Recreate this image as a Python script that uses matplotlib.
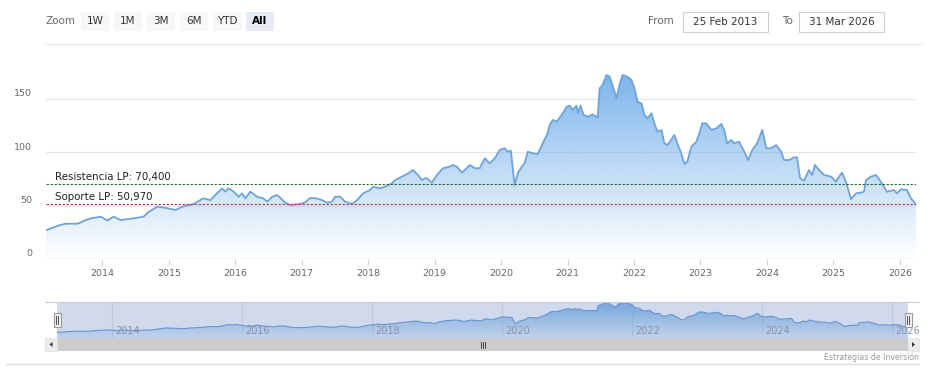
import matplotlib
matplotlib.use("Agg")
import matplotlib.pyplot as plt
import matplotlib.dates as mdates
from matplotlib.patches import Rectangle
import numpy as np
import pandas as pd

# ---------------- data ----------------
dates = [
    "2013-02-25", "2013-03-24", "2013-05-07", "2013-06-14", "2013-08-19", "2013-09-26",
    "2013-10-29", "2013-12-23", "2014-01-28", "2014-03-03", "2014-04-11", "2014-06-21",
    "2014-08-15", "2014-09-12", "2014-10-31", "2014-12-25", "2015-02-07", "2015-03-17",
    "2015-05-16", "2015-07-10", "2015-08-18", "2015-09-23", "2015-10-21", "2015-11-08",
    "2015-11-26", "2015-12-23", "2016-01-20", "2016-02-07", "2016-02-26", "2016-03-24",
    "2016-04-30", "2016-06-03", "2016-06-25", "2016-07-23", "2016-08-19", "2016-10-02",
    "2016-10-29", "2016-12-23", "2017-01-20", "2017-02-16", "2017-03-21", "2017-04-23",
    "2017-05-20", "2017-06-17", "2017-07-03", "2017-07-31", "2017-08-27", "2017-10-04",
    "2017-11-01", "2017-12-04", "2018-01-11", "2018-01-28", "2018-03-07", "2018-04-03",
    "2018-05-12", "2018-05-28", "2018-07-06", "2018-08-08", "2018-09-04", "2018-10-01",
    "2018-10-23", "2018-11-09", "2018-11-20", "2018-12-17", "2019-01-14", "2019-02-16",
    "2019-03-26", "2019-04-11", "2019-05-03", "2019-05-31", "2019-06-16", "2019-07-14",
    "2019-08-10", "2019-09-06", "2019-10-04", "2019-10-31", "2019-11-28", "2019-12-25",
    "2020-01-22", "2020-02-07", "2020-02-24", "2020-03-16", "2020-04-02", "2020-04-24",
    "2020-05-10", "2020-05-27", "2020-06-23", "2020-07-21", "2020-08-17", "2020-09-13",
    "2020-09-24", "2020-10-11", "2020-11-02", "2020-11-29", "2020-12-27", "2021-01-12",
    "2021-01-29", "2021-02-19", "2021-02-27", "2021-03-13", "2021-03-30", "2021-04-21",
    "2021-05-18", "2021-06-15", "2021-06-26", "2021-07-12", "2021-08-03", "2021-08-20",
    "2021-09-05", "2021-09-27", "2021-10-13", "2021-10-30", "2021-11-26", "2021-12-18",
    "2022-01-04", "2022-01-20", "2022-02-11", "2022-02-27", "2022-03-16", "2022-04-07",
    "2022-04-23", "2022-05-10", "2022-06-01", "2022-06-17", "2022-07-04", "2022-07-31",
    "2022-08-11", "2022-08-27", "2022-09-18", "2022-10-05", "2022-10-21", "2022-11-12",
    "2022-12-10", "2022-12-26", "2023-01-11", "2023-02-02", "2023-03-02", "2023-03-29",
    "2023-04-26", "2023-05-12", "2023-05-28", "2023-06-20", "2023-07-06", "2023-08-02",
    "2023-08-30", "2023-09-21", "2023-10-13", "2023-11-09", "2023-12-07", "2023-12-29",
    "2024-01-25", "2024-02-21", "2024-03-20", "2024-04-05", "2024-05-03", "2024-05-30",
    "2024-06-15", "2024-07-02", "2024-07-24", "2024-08-20", "2024-09-06", "2024-09-22",
    "2024-10-14", "2024-11-11", "2024-12-19", "2025-01-15", "2025-02-01", "2025-02-17",
    "2025-03-11", "2025-04-08", "2025-05-05", "2025-06-01", "2025-06-18", "2025-06-29",
    "2025-07-26", "2025-08-23", "2025-09-19", "2025-10-22", "2025-11-29", "2025-12-16",
    "2026-01-07", "2026-02-09", "2026-03-03", "2026-03-31",
]
values = [
    27.0, 28.5, 31.5, 33.0, 33.0, 36.0,
    38.0, 39.5, 36.0, 39.5, 36.4, 38.0,
    39.5, 44.0, 49.0, 47.4, 45.8, 48.9,
    51.4, 56.7, 55.0, 61.4, 66.0, 63.0,
    66.0, 63.0, 58.2, 61.4, 56.7, 63.0,
    58.2, 56.7, 53.6, 58.2, 59.8, 52.6,
    50.5, 51.4, 53.0, 57.0, 56.7, 55.0,
    52.6, 53.6, 58.2, 58.2, 53.6, 51.4,
    55.0, 61.4, 64.5, 67.6, 66.0, 67.6,
    70.7, 73.8, 77.0, 80.0, 83.2, 78.5,
    73.8, 75.4, 75.4, 71.3, 78.5, 84.8,
    86.3, 87.9, 86.3, 80.7, 83.2, 87.9,
    84.8, 84.8, 94.1, 89.4, 94.1, 101.9,
    103.5, 100.3, 101.2, 69.2, 80.0, 86.3,
    89.4, 100.3, 98.8, 98.1, 108.0, 117.5,
    125.0, 130.0, 128.3, 134.6, 142.3, 143.3,
    139.3, 143.3, 136.2, 143.3, 134.6, 133.0,
    135.2, 132.1, 159.5, 162.6, 172.0, 170.4,
    162.6, 150.2, 162.6, 172.0, 170.4, 167.3,
    159.5, 147.0, 145.5, 134.6, 131.5, 136.2,
    126.8, 119.0, 120.6, 108.1, 106.5, 113.0,
    115.9, 108.1, 98.8, 88.8, 90.9, 104.9,
    109.6, 117.5, 126.8, 126.8, 120.6, 122.1,
    126.2, 120.6, 108.1, 111.2, 108.1, 109.6,
    100.3, 92.5, 101.9, 108.1, 120.6, 103.5,
    103.5, 106.5, 100.3, 92.5, 92.5, 95.0,
    95.0, 75.4, 73.2, 83.2, 78.5, 87.9,
    83.2, 78.5, 77.0, 72.2, 77.0, 80.7,
    72.2, 55.8, 61.4, 62.0, 62.9, 73.8,
    77.0, 78.5, 72.2, 62.9, 64.5, 61.4,
    65.1, 64.5, 56.7, 51.0,
]
year_ticks = list(range(2014, 2027))
nav_year_ticks = list(range(2014, 2027, 2))
y_ticks = [0, 50, 100, 150]
resistance = 70.4
support = 50.97
resistance_label = "Resistencia LP: 70,400"
support_label = "Soporte LP: 50,970"
range_buttons = ["1W", "1M", "3M", "6M", "YTD", "All"]
from_date = "25 Feb 2013"
to_date = "31 Mar 2026"
credits = "Estrategias de Inversión"

# ---------------- setup ----------------
plt.rcParams['font.family'] = ['DejaVu Sans']
W, H = 934, 379
fig = plt.figure(figsize=(W / 100, H / 100), dpi=100)
fig.patch.set_facecolor('white')

def fx(px):
    return px / W

def fy(py):
    return 1 - py / H

xd = mdates.date2num(pd.to_datetime(dates))
yv = np.array(values)
YMAX = 176

BLUE = (124 / 255, 181 / 255, 236 / 255)
LINE = '#6fa3da'


def gradient_area(ax, x, y, top_alpha=1.0, bottom_alpha=0.0, line_w=1.3, line_c=LINE):
    poly = ax.fill_between(x, 0, y, facecolor='none', edgecolor='none')
    path = poly.get_paths()[0]
    n = 256
    grad = np.zeros((n, 1, 4))
    grad[..., 0] = BLUE[0]
    grad[..., 1] = BLUE[1]
    grad[..., 2] = BLUE[2]
    grad[:, 0, 3] = np.linspace(bottom_alpha, top_alpha, n)
    im = ax.imshow(grad, extent=[x.min(), x.max(), 0, y.max()], origin='lower',
                   aspect='auto', zorder=1, interpolation='bilinear')
    im.set_clip_path(path, ax.transData)
    ax.plot(x, y, color=line_c, lw=line_w, zorder=3, solid_joinstyle='round')


# ---------------- main axes ----------------
L, R, T, B = 46, 916, 70.7, 259
ax = fig.add_axes([fx(L), fy(B), (R - L) / W, (B - T) / H])
ax.set_facecolor('none')
for s in ax.spines.values():
    s.set_visible(False)

for v in y_ticks[1:]:
    ax.axhline(v, color='#e6e6e6', lw=0.8, zorder=0)

gradient_area(ax, xd, yv)

ax.axhline(resistance, color='#2e6b3a', lw=0.8, ls=(0, (2.2, 1.4)), zorder=4)
ax.axhline(support, color='#b03a4e', lw=0.8, ls=(0, (2.2, 1.4)), zorder=4)
ax.axhline(0, color='#ccd6eb', lw=1.0, zorder=5)

ax.set_xlim(xd[0], xd[-1])
ax.set_ylim(0, YMAX)

tick_pos = mdates.date2num([pd.Timestamp(f"{yy}-01-01") for yy in year_ticks])
ax.set_xticks(tick_pos)
ax.set_yticks([])
ax.tick_params(axis='x', length=4, width=0.8, color='#ccd6eb', labelbottom=False, direction='out')
for tp, yy in zip(tick_pos, year_ticks):
    ax.annotate(str(yy), xy=(tp, 0), xycoords=('data', 'axes fraction'),
                xytext=(0, -14 * 0.72), textcoords='offset points',
                ha='center', va='center', fontsize=6.8, color='#666666')
for v in y_ticks:
    ax.annotate(str(v), xy=(0, v), xycoords=('axes fraction', 'data'),
                xytext=(-14 * 0.72, 5 * 0.72), textcoords='offset points',
                ha='right', va='center', fontsize=6.8, color='#666666')

ax.annotate(resistance_label, xy=(0, resistance), xycoords=('axes fraction', 'data'),
            xytext=(9 * 0.72, 7 * 0.72), textcoords='offset points',
            ha='left', va='center', fontsize=7.4, color='#222222', zorder=6)
ax.annotate(support_label, xy=(0, support), xycoords=('axes fraction', 'data'),
            xytext=(9 * 0.72, 7 * 0.72), textcoords='offset points',
            ha='left', va='center', fontsize=7.4, color='#222222', zorder=6)

# ---------------- navigator ----------------
NL, NR, NT, NB = 57, 908, 302, 338
nav = fig.add_axes([fx(NL), fy(NB), (NR - NL) / W, (NB - NT) / H])
nav.set_facecolor('white')
for s in nav.spines.values():
    s.set_visible(False)
nav_tick_pos = mdates.date2num([pd.Timestamp(f"{yy}-01-01") for yy in nav_year_ticks])
for tp in nav_tick_pos:
    nav.axvline(tp, color='#e6e6e6', lw=0.8, zorder=0)
gradient_area(nav, xd, yv, top_alpha=1.0, bottom_alpha=0.15, line_w=0.8, line_c='#6a9bd6')
nav.set_xlim(xd[0], xd[-1])
nav.set_ylim(0, YMAX)
nav.set_xticks([])
nav.set_yticks([])
# mask (selected range = all)
nav.add_patch(Rectangle((0, 0), 1, 1, transform=nav.transAxes,
                        facecolor=(102 / 255, 133 / 255, 194 / 255, 0.3), edgecolor='none', zorder=8))
for tp, yy in zip(nav_tick_pos, nav_year_ticks):
    nav.annotate(str(yy), xy=(tp, 0), xycoords=('data', 'axes fraction'),
                 xytext=(3 * 0.72, 7 * 0.72), textcoords='offset points',
                 ha='left', va='center', fontsize=7.0, color='#8a93a6', zorder=9)

# ---------------- overlay (pixel coordinates) ----------------
ov = fig.add_axes([0, 0, 1, 1], zorder=10)
ov.set_xlim(0, W)
ov.set_ylim(H, 0)
ov.axis('off')
ov.patch.set_alpha(0)

# range selector
ov.text(46, 21, "Zoom", ha='left', va='center', fontsize=7.5, color='#666666')
btn_x = [81, 114, 147, 180, 213, 246]
btn_w = [28, 28, 28, 28, 29, 28]
for bx, bw, lab in zip(btn_x, btn_w, range_buttons):
    sel = (lab == "All")
    ov.add_patch(Rectangle((bx, 12), bw, 19, facecolor='#e6ebf5' if sel else '#f7f7f7',
                           edgecolor='none'))
    ov.text(bx + bw / 2, 21.5, lab, ha='center', va='center', fontsize=7.5,
            color='#000000' if sel else '#333333', fontweight='bold' if sel else 'normal')

ov.text(674, 21.5, "From", ha='right', va='center', fontsize=7.5, color='#666666')
ov.add_patch(Rectangle((683, 12), 85, 20, facecolor='white', edgecolor='#cccccc', lw=0.8))
ov.text(683 + 85 / 2, 22, from_date, ha='center', va='center', fontsize=7.5, color='#333333')
ov.text(787, 21.5, "To", ha='center', va='center', fontsize=7.5, color='#666666')
ov.add_patch(Rectangle((799, 12), 85, 20, facecolor='white', edgecolor='#cccccc', lw=0.8))
ov.text(799 + 85 / 2, 22, to_date, ha='center', va='center', fontsize=7.5, color='#333333')

ov.plot([45, 922], [44, 44], color='#ececec', lw=1.0)

# navigator outline
ov.plot([45, 919], [302, 302], color='#cccccc', lw=0.8)

# handles
for hx in (NL, NR):
    ov.add_patch(Rectangle((hx - 3.5, 313), 7, 14, facecolor='#f2f2f2', edgecolor='#999999', lw=0.8))
    ov.plot([hx - 1, hx - 1], [316, 324], color='#333333', lw=0.6)
    ov.plot([hx + 1, hx + 1], [316, 324], color='#333333', lw=0.6)

# scrollbar
ov.add_patch(Rectangle((45, 338), 874, 13, facecolor='#f2f2f2', edgecolor='none'))
ov.add_patch(Rectangle((NL, 338), NR - NL, 13, facecolor='#cccccc', edgecolor='none'))
ov.add_patch(Rectangle((45, 338), 12, 13, facecolor='#ebebeb', edgecolor='#e0e0e0', lw=0.5))
ov.add_patch(Rectangle((NR, 338), 11, 13, facecolor='#ebebeb', edgecolor='#e0e0e0', lw=0.5))
ov.fill([52.5, 52.5, 49.5], [342, 347, 344.5], color='#333333', lw=0)
ov.fill([912, 912, 915], [342, 347, 344.5], color='#333333', lw=0)
cx = (NL + NR) / 2
for dx in (-2, 0, 2):
    ov.plot([cx + dx, cx + dx], [341.5, 347.5], color='#333333', lw=0.6)

# credits
ov.text(919, 357, credits, ha='right', va='center', fontsize=5.6, color='#999999')
ov.plot([6, 919], [364, 364], color='#dddddd', lw=1.0)

fig.savefig("out.png", dpi=100, facecolor='white')
